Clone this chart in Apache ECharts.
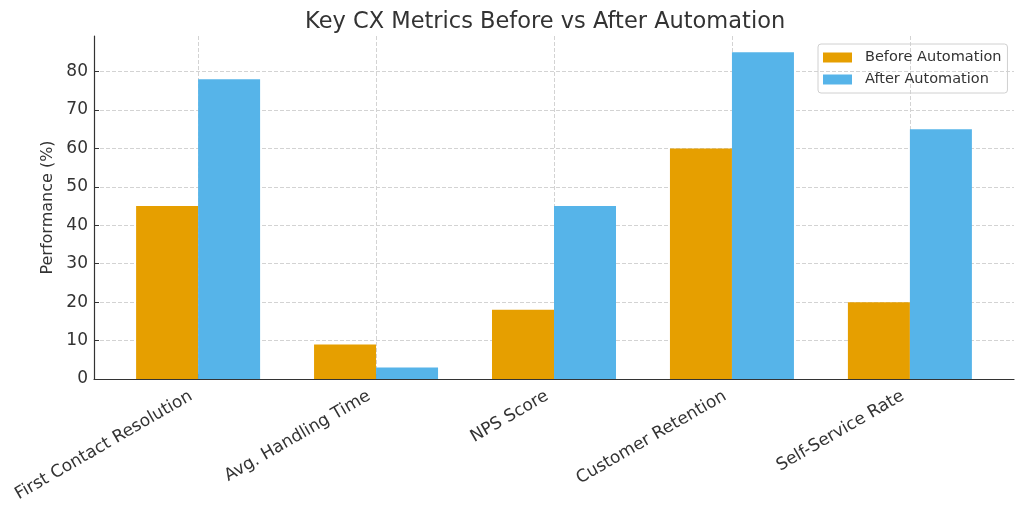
<!DOCTYPE html>
<html>
<head>
<meta charset="utf-8">
<script src="https://cdn.jsdelivr.net/npm/echarts@6/dist/echarts.min.js"></script>
<style>html,body{margin:0;padding:0;background:#fff}#c{width:1024px;height:513px}</style>
</head>
<body>
<div id="c"></div>
<script>
const categories = ["First Contact Resolution", "Avg. Handling Time", "NPS Score", "Customer Retention", "Self-Service Rate"];
const beforeValues = [45, 9, 18, 60, 20];
const afterValues = [78, 3, 45, 85, 65];
const yTicks = [0, 10, 20, 30, 40, 50, 60, 70, 80];
const seriesNames = ["Before Automation", "After Automation"];

const idx = categories.map((_, i) => i);
const font = "DejaVu Sans";
const txt = "#333333";
const chart = echarts.init(document.getElementById('c'), null, {renderer: 'canvas'});
chart.setOption({
  animation: false,
  backgroundColor: '#ffffff',
  title: {
    text: "Key CX Metrics Before vs After Automation",
    left: 300, top: 6,
    textStyle: {fontFamily: font, fontSize: 22.5, fontWeight: 'normal', color: txt}
  },
  legend: {
    left: 818, top: 44,
    orient: 'vertical',
    itemWidth: 29, itemHeight: 10, itemGap: 7,
    padding: [6, 6, 6, 5],
    borderColor: '#d0d0d0', borderWidth: 1, borderRadius: 3,
    textStyle: {fontFamily: font, fontSize: 14.5, color: txt, padding: [0, 0, 0, 8]},
    data: seriesNames.map(n => ({name: n, icon: 'rect'}))
  },
  grid: {left: 94, right: 10, top: 36, bottom: 134, containLabel: false},
  xAxis: {
    type: 'value', min: -0.585, max: 4.585,
    axisLine: {show: true, onZero: false, lineStyle: {color: '#333', width: 1.2}},
    axisTick: {show: true, inside: true, length: 5, customValues: idx, lineStyle: {color: '#333'}},
    axisLabel: {
      customValues: idx, rotate: 30, margin: 12, padding: [0, 8, 0, 0],
      fontFamily: font, fontSize: 17, color: txt,
      formatter: v => categories[Math.round(v)]
    },
    splitLine: {show: true, lineStyle: {type: 'dashed', color: '#d3d3d3'}}
  },
  yAxis: {
    type: 'value', min: 0, max: 89.25, interval: 10,
    name: "Performance (%)", nameLocation: 'middle', nameGap: 35,
    nameTextStyle: {fontFamily: font, fontSize: 16, color: txt},
    axisLine: {show: true, onZero: false, lineStyle: {color: '#333', width: 1.2}},
    axisTick: {show: true, inside: true, length: 5, customValues: yTicks, lineStyle: {color: '#333'}},
    axisLabel: {customValues: yTicks, fontFamily: font, fontSize: 17, color: txt, margin: 6},
    splitLine: {show: true, lineStyle: {type: 'dashed', color: '#d3d3d3'}}
  },
  series: [
    {name: seriesNames[0], type: 'bar', barWidth: 62, barGap: '0%', itemStyle: {color: '#E69F00'},
     data: beforeValues.map((v, i) => [i, v])},
    {name: seriesNames[1], type: 'bar', barWidth: 62, barGap: '0%', itemStyle: {color: '#56B4E9'},
     data: afterValues.map((v, i) => [i, v])}
  ]
});
</script>
</body>
</html>
